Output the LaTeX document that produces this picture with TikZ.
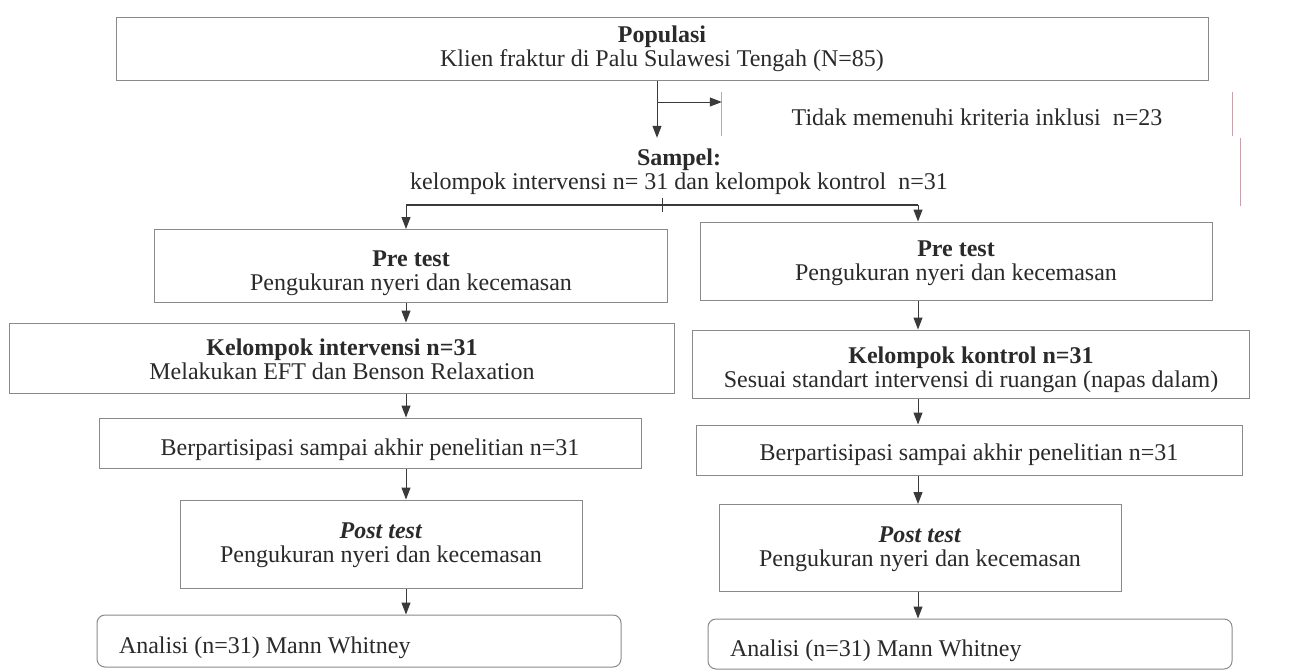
\documentclass[tikz,border=0pt]{standalone}
\usepackage{fontspec}
\setmainfont{Liberation Serif}
\usetikzlibrary{arrows.meta}
\definecolor{boxgray}{HTML}{8A8A8A}
\definecolor{arrgray}{HTML}{3A3A3A}
\definecolor{pinkline}{HTML}{C8A0A8}
\definecolor{txtgray}{HTML}{2A2A2A}
\newcommand\fsz{\fontsize{24}{24}\selectfont}
\newcommand\dn[1]{\rule{0pt}{#1pt}}
\begin{document}
\begin{tikzpicture}[x=1pt,y=-1pt,
  box/.style={draw=boxgray, line width=1pt, inner sep=0pt, align=center, font=\fsz, text=txtgray},
  plain/.style={inner sep=0pt, align=center, font=\fsz, text=txtgray},
  abox/.style={draw=boxgray, line width=1pt, rounded corners=8pt, font=\fsz, text=txtgray, inner xsep=22pt, inner ysep=0pt},
  arr/.style={draw=arrgray, line width=1pt, -{Triangle[length=12pt,width=9pt]}},
  link/.style={draw=arrgray, line width=1.8pt},
  edge/.style={draw=pinkline, line width=1pt}]
\useasboundingbox (0,0) rectangle (1308,669);
\fill[white] (0,0) rectangle (1308,669);

% top
\node[box, minimum width=1092pt, minimum height=62pt] (popul) at (662,49)
  {\textbf{Populasi}\\Klien fraktur di Palu Sulawesi Tengah (N=85)};
\node[plain, minimum width=510pt, minimum height=44pt] (excl) at (977,114)
  {\dn{24}Tidak memenuhi kriteria inklusi\ \ n=23};
\draw[edge] (excl.north west) -- (excl.south west);
\draw[edge] (excl.north east) -- (excl.south east);
\node[plain, minimum width=1122pt, minimum height=68pt] (sampel) at (679,172)
  {\textbf{Sampel:}\\kelompok intervensi n= 31 dan kelompok kontrol\ \ n=31};
\draw[edge] (sampel.north east) -- (sampel.south east);

\coordinate (xa) at (657,0);
\draw[arr] (popul.south -| xa) -- (sampel.north -| xa);
\coordinate (br) at (657,102);
\draw[arr] (br) -- (excl.west |- br);

% pre test
\node[box, minimum width=513pt, minimum height=73pt] (preL) at (411,266)
  {\dn{30}\textbf{Pre test}\\Pengukuran nyeri dan kecemasan};
\node[box, minimum width=512pt, minimum height=78pt] (preR) at (956,261)
  {\dn{20}\textbf{Pre test}\\Pengukuran nyeri dan kecemasan};

\coordinate (xl) at (406,0);
\coordinate (xr) at (918,0);
\coordinate (split) at (662,205);
\coordinate (tickA) at (662,198);
\coordinate (tickB) at (662,212);
\draw[draw=arrgray, line width=1pt] (tickA) -- (tickB);
\draw[link] (split -| xl) -- (split -| xr);
\draw[arr] (split -| xl) -- (preL.north -| xl);
\draw[arr] (split -| xr) -- (preR.north -| xr);

% kelompok
\node[box, minimum width=665pt, minimum height=70pt] (kelL) at (342,358)
  {\dn{20}\textbf{Kelompok intervensi n=31}\\Melakukan EFT dan Benson Relaxation};
\node[box, minimum width=557pt, minimum height=68pt] (kelR) at (971,364)
  {\dn{28}\textbf{Kelompok kontrol n=31}\\Sesuai standart intervensi di ruangan (napas dalam)};
\draw[arr] (preL.south -| xl) -- (kelL.north -| xl);
\draw[arr] (preR.south -| xr) -- (kelR.north -| xr);

% berpartisipasi
\node[box, minimum width=542pt, minimum height=50pt] (berL) at (370,443)
  {\dn{30}Berpartisipasi sampai akhir penelitian n=31};
\node[box, minimum width=546pt, minimum height=50pt] (berR) at (969,450)
  {\dn{27}Berpartisipasi sampai akhir penelitian n=31};
\draw[arr] (kelL.south -| xl) -- (berL.north -| xl);
\draw[arr] (kelR.south -| xr) -- (berR.north -| xr);

% post test
\node[box, minimum width=402pt, minimum height=88pt] (postL) at (381,544)
  {\dn{19}\textbf{\textit{Post test}}\\Pengukuran nyeri dan kecemasan};
\node[box, minimum width=402pt, minimum height=87pt] (postR) at (920,548)
  {\dn{19}\textbf{\textit{Post test}}\\Pengukuran nyeri dan kecemasan};
\draw[arr] (berL.south -| xl) -- (postL.north -| xl);
\draw[arr] (berR.south -| xr) -- (postR.north -| xr);

% analisi
\node[abox, minimum width=524pt, minimum height=52pt] (anL) at (359,641)
  {\makebox[480pt][l]{\dn{30}Analisi (n=31) Mann Whitney}};
\node[abox, minimum width=524pt, minimum height=50pt] (anR) at (970,644)
  {\makebox[480pt][l]{\dn{30}Analisi (n=31) Mann Whitney}};
\draw[arr] (postL.south -| xl) -- (anL.north -| xl);
\draw[arr] (postR.south -| xr) -- (anR.north -| xr);
\end{tikzpicture}
\end{document}
